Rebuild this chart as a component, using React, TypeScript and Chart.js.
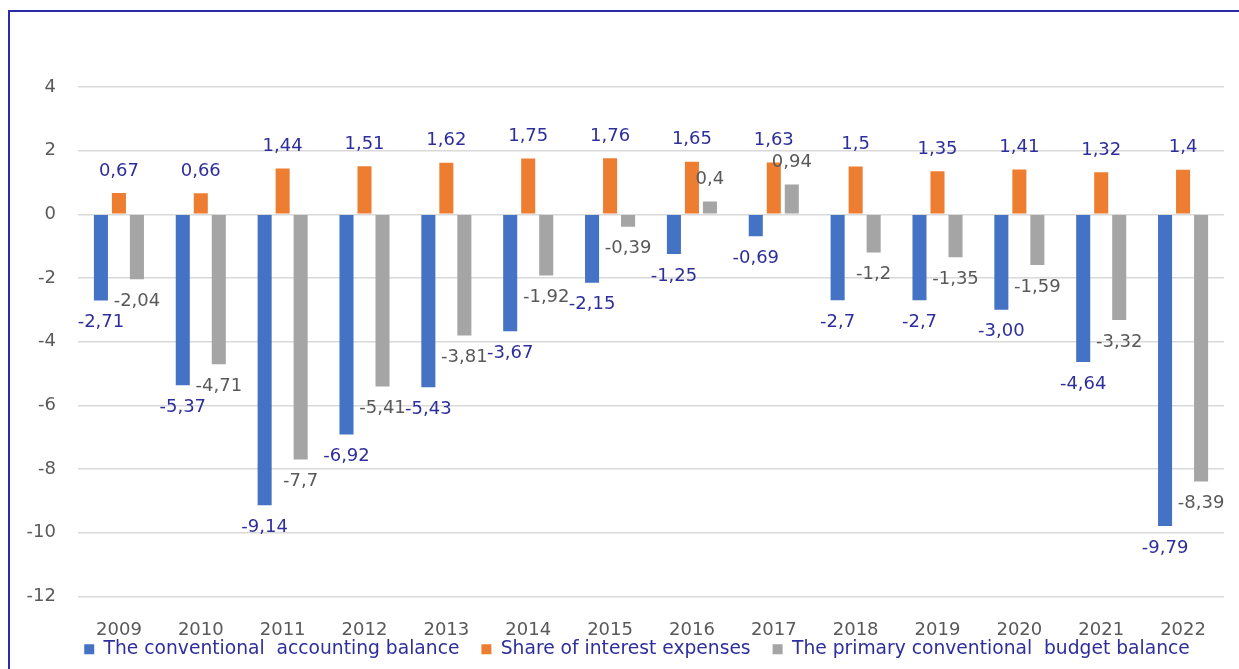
import React, { useEffect, useRef } from "react";
import { Chart, registerables } from "chart.js";

Chart.register(...registerables);

const years = ["2009", "2010", "2011", "2012", "2013", "2014", "2015", "2016", "2017", "2018", "2019", "2020", "2021", "2022"];
const accountingBalance = [-2.71, -5.37, -9.14, -6.92, -5.43, -3.67, -2.15, -1.25, -0.69, -2.7, -2.7, -3.0, -4.64, -9.79];
const accountingLabels = ["-2,71", "-5,37", "-9,14", "-6,92", "-5,43", "-3,67", "-2,15", "-1,25", "-0,69", "-2,7", "-2,7", "-3,00", "-4,64", "-9,79"];
const interestShare = [0.67, 0.66, 1.44, 1.51, 1.62, 1.75, 1.76, 1.65, 1.63, 1.5, 1.35, 1.41, 1.32, 1.4];
const interestLabels = ["0,67", "0,66", "1,44", "1,51", "1,62", "1,75", "1,76", "1,65", "1,63", "1,5", "1,35", "1,41", "1,32", "1,4"];
const primaryBalance = [-2.04, -4.71, -7.7, -5.41, -3.81, -1.92, -0.39, 0.4, 0.94, -1.2, -1.35, -1.59, -3.32, -8.39];
const primaryLabels = ["-2,04", "-4,71", "-7,7", "-5,41", "-3,81", "-1,92", "-0,39", "0,4", "0,94", "-1,2", "-1,35", "-1,59", "-3,32", "-8,39"];
const seriesNames = ["The conventional  accounting balance", "Share of interest expenses", "The primary conventional  budget balance"];

const FONT = "'DejaVu Sans', 'Open Sans', sans-serif";
const FS = 18;
const NAVY = "#2E2E9C";
const GREY_TEXT = "#595959";

const labelSets = [accountingLabels, interestLabels, primaryLabels];
const labelColors = [NAVY, NAVY, GREY_TEXT];

const dataLabelPlugin = {
  id: "barValueLabels",
  afterDatasetsDraw(chart: any) {
    const ctx = chart.ctx;
    ctx.save();
    ctx.font = `${FS}px ${FONT}`;
    ctx.textAlign = "center";
    ctx.textBaseline = "middle";
    chart.data.datasets.forEach((ds: any, di: number) => {
      const meta = chart.getDatasetMeta(di);
      ctx.fillStyle = labelColors[di];
      meta.data.forEach((el: any, i: number) => {
        const v = ds.data[i];
        const y = v < 0 ? el.y + 22 : el.y - 22;
        ctx.fillText(labelSets[di][i], el.x, y);
      });
    });
    ctx.restore();
  },
};

// Pull the legend up (and a little right) so it sits just under the year labels, as in the reference
const legendShiftPlugin = {
  id: "legendShift",
  afterLayout(chart: any) {
    const lg = chart.legend;
    if (!lg) return;
    const dy = lg.top - 618;
    lg.top -= dy;
    lg.bottom -= dy;
    lg.left += 25;
    lg.right += 25;
  },
};

export default function App() {
  const canvasRef = useRef<HTMLCanvasElement | null>(null);

  useEffect(() => {
    document.documentElement.style.overflow = "hidden";
    document.body.style.overflow = "hidden";
    const canvas = canvasRef.current;
    if (!canvas) return;
    const chart = new Chart(canvas, {
      type: "bar",
      data: {
        labels: years,
        datasets: [
          { label: seriesNames[0], data: accountingBalance, backgroundColor: "#4472C4", categoryPercentage: 0.66, barPercentage: 0.78 },
          { label: seriesNames[1], data: interestShare, backgroundColor: "#ED7D31", categoryPercentage: 0.66, barPercentage: 0.78 },
          { label: seriesNames[2], data: primaryBalance, backgroundColor: "#A5A5A5", categoryPercentage: 0.66, barPercentage: 0.78 },
        ],
      },
      options: {
        animation: false,
        responsive: false,
        maintainAspectRatio: false,
        layout: { padding: { top: 87, right: 15, bottom: -23, left: 0 } },
        scales: {
          x: {
            grid: { display: false, drawTicks: false },
            border: { display: false },
            ticks: { font: { family: FONT, size: FS }, color: GREY_TEXT, padding: 23, maxRotation: 0, autoSkip: false },
            afterFit: (s: any) => { s.height = 45; },
          },
          y: {
            min: -12,
            max: 4,
            grid: { color: "#D9D9D9", lineWidth: 1.5, drawTicks: false },
            border: { display: false },
            ticks: { stepSize: 2, font: { family: FONT, size: FS }, color: GREY_TEXT, padding: 22 },
            afterFit: (s: any) => { s.width = 78; },
          },
        },
        plugins: {
          legend: {
            position: "bottom",
            labels: {
              font: { family: FONT, size: 18.7 },
              color: NAVY,
              boxWidth: 10,
              boxHeight: 10,
              padding: 22,
            },
          },
          tooltip: { enabled: false },
        },
      },
      plugins: [dataLabelPlugin, legendShiftPlugin],
    });
    return () => chart.destroy();
  }, []);

  return (
    <div>
      <div
        style={{
          position: "fixed",
          left: 8,
          top: 10,
          width: 1300,
          height: 700,
          border: "2px solid #2B2BA6",
          boxSizing: "border-box",
        }}
      />
      <canvas
        ref={canvasRef}
        width={1239}
        height={669}
        style={{ position: "fixed", left: 0, top: 0, width: 1239, height: 669 }}
      />
    </div>
  );
}
